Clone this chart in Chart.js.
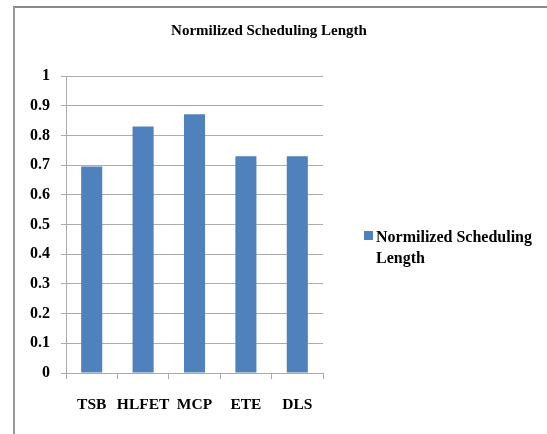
<!DOCTYPE html>
<html>
<head>
<meta charset="utf-8">
<script src="https://cdn.jsdelivr.net/npm/chart.js@4/dist/chart.umd.min.js"></script>
<style>
  html, body { margin: 0; padding: 0; background: #fff; }
  #wrap { position: relative; width: 547px; height: 434px; overflow: hidden; }
  #frame {
    position: absolute; left: 13px; top: 6px; width: 600px; height: 500px;
    border-top: 2px solid #8a8a8a; border-left: 2px solid #9a9a9a;
  }
  canvas { position: absolute; left: 0; top: 0; }
</style>
</head>
<body>
<div id="wrap">
  <div id="frame"></div>
  <canvas id="chart" width="547" height="434"></canvas>
</div>
<script>
  const categories = ["TSB", "HLFET", "MCP", "ETE", "DLS"];
  const seriesName = "Normilized Scheduling Length";
  const seriesValues = [0.695, 0.83, 0.871, 0.73, 0.73];
  const legendLines = ["Normilized Scheduling", "Length"];

  const barColor = "#4F81BD";
  const gridColor = "#ababab";
  const serif = "'Liberation Serif', 'Times New Roman', serif";

  // legend drawn by hand so the label can wrap like the original
  const sideLegend = {
    id: "sideLegend",
    afterDraw: function (chart) {
      const ctx = chart.ctx;
      const x = chart.chartArea.right + 41;
      ctx.save();
      ctx.fillStyle = barColor;
      ctx.fillRect(x, 231, 9, 9);
      ctx.fillStyle = "#000";
      ctx.font = "bold 16px " + serif;
      ctx.textBaseline = "middle";
      ctx.textAlign = "left";
      legendLines.forEach((line, i) => {
        ctx.fillText(line, x + 12, 238 + i * 21);
      });
      ctx.restore();
    },
  };

  new Chart(document.getElementById("chart"), {
    type: "bar",
    data: {
      labels: categories,
      datasets: [
        {
          label: seriesName,
          data: seriesValues,
          backgroundColor: barColor,
          borderWidth: 0,
          categoryPercentage: 1,
          barPercentage: 0.41,
        },
      ],
    },
    options: {
      responsive: false,
      animation: false,
      layout: { padding: { left: 0, right: 9, top: 0, bottom: 0 } },
      plugins: {
        legend: { display: false },
        tooltip: { enabled: false },
        title: {
          display: true,
          text: "Normilized Scheduling Length",
          color: "#000",
          font: { family: serif, size: 15, weight: "bold" },
          padding: { top: 22, bottom: 36 },
        },
      },
      scales: {
        x: {
          grid: {
            offset: true,
            drawOnChartArea: false,
            drawTicks: true,
            tickLength: 6,
            color: gridColor,
          },
          border: { display: true, color: gridColor },
          ticks: {
            color: "#000",
            padding: 17,
            autoSkip: false,
            maxRotation: 0,
            font: { family: serif, size: 15.5, weight: "bold" },
          },
          afterFit: function (scale) {
            scale.height = 61;
          },
        },
        y: {
          min: 0,
          max: 1,
          ticks: {
            stepSize: 0.1,
            color: "#000",
            padding: 11,
            autoSkip: false,
            font: { family: serif, size: 16, weight: "bold" },
            callback: function (value) {
              return String(Math.round(value * 10) / 10);
            },
          },
          grid: { color: gridColor, tickLength: 5 },
          border: { display: true, color: gridColor },
          afterFit: function (scale) {
            scale.width = 66;
          },
        },
        // empty right axis that only keeps room for the legend
        side: {
          position: "right",
          display: true,
          ticks: { display: false },
          grid: { display: false },
          border: { display: false },
          afterFit: function (scale) {
            scale.width = 215;
          },
        },
      },
    },
    plugins: [sideLegend],
  });
</script>
</body>
</html>
